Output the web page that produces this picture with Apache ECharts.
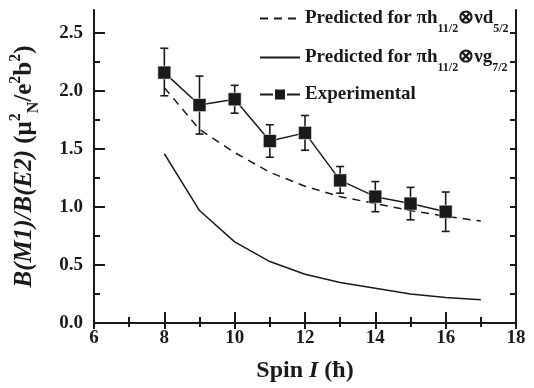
<!DOCTYPE html>
<html>
<head>
<meta charset="utf-8">
<script src="https://cdn.jsdelivr.net/npm/echarts@6/dist/echarts.min.js"></script>
<style>
  html, body { margin: 0; padding: 0; background: #fff; }
  #chart { width: 534px; height: 388px; }
</style>
</head>
<body>
<div id="chart"></div>
<script>
  // spins (hbar)
  var expSpin = [8, 9, 10, 11, 12, 13, 14, 15, 16];
  var expValue = [2.16, 1.88, 1.93, 1.57, 1.64, 1.23, 1.09, 1.03, 0.96];
  var expHigh = [2.37, 2.13, 2.05, 1.71, 1.79, 1.35, 1.22, 1.17, 1.13];
  var expLow = [1.96, 1.63, 1.81, 1.43, 1.49, 1.12, 0.96, 0.89, 0.79];

  var predSpin = [8, 9, 10, 11, 12, 13, 14, 15, 16, 17];
  var predD52 = [2.03, 1.67, 1.47, 1.30, 1.18, 1.09, 1.03, 0.97, 0.92, 0.88];
  var predG72 = [1.46, 0.97, 0.70, 0.53, 0.42, 0.35, 0.30, 0.25, 0.22, 0.20];

  var yTicks = [0, 0.25, 0.5, 0.75, 1, 1.25, 1.5, 1.75, 2, 2.25, 2.5];
  var yLabels = [0, 0.5, 1, 1.5, 2, 2.5];

  var nameD = 'Predicted d5/2';
  var nameG = 'Predicted g7/2';
  var nameExp = 'Experimental';

  var font = 'Liberation Serif';
  var ink = '#1a1a1a';

  function pairs(xs, ys) {
    return xs.map(function (x, i) { return [x, ys[i]]; });
  }

  var legendRich = {
    t: { fontFamily: font, fontWeight: 'bold', fontSize: 19, color: ink, lineHeight: 24 },
    s: { fontFamily: font, fontWeight: 'bold', fontSize: 12, color: ink, verticalAlign: 'bottom', lineHeight: 32 }
  };
  var legendText = {};
  legendText[nameD] = '{t|Predicted for πh}{s|11/2}{t|⊗νd}{s|5/2}';
  legendText[nameG] = '{t|Predicted for πh}{s|11/2}{t|⊗νg}{s|7/2}';
  legendText[nameExp] = '{t|Experimental}';

  function makeLegend(item, top) {
    return {
      data: [item],
      left: 254,
      top: top,
      itemWidth: 40,
      itemHeight: 15,
      formatter: function (n) { return legendText[n]; },
      textStyle: { rich: legendRich }
    };
  }

  var axisLine = { show: true, lineStyle: { color: ink, width: 2 } };
  var tickStyle = { color: ink, width: 2 };

  var chart = echarts.init(document.getElementById('chart'));
  chart.setOption({
    animation: false,
    grid: { left: 94, right: 18, top: 10, bottom: 64 },
    legend: [
      makeLegend({ name: nameD, itemStyle: { opacity: 0 } }, 4),
      makeLegend({ name: nameG, itemStyle: { opacity: 0 } }, 43),
      makeLegend(nameExp, 80)
    ],
    xAxis: [{
      type: 'value', min: 6, max: 18, interval: 2,
      axisLine: axisLine,
      axisTick: { inside: true, length: 11, lineStyle: tickStyle },
      minorTick: { show: true, splitNumber: 2, length: 6, lineStyle: tickStyle },
      splitLine: { show: false },
      axisLabel: { margin: 6, fontFamily: font, fontWeight: 'bold', fontSize: 19, color: ink },
      name: '{b|Spin }{i|I}{b| (ħ)}',
      nameLocation: 'middle',
      nameGap: 36,
      nameTextStyle: {
        rich: {
          b: { fontFamily: font, fontWeight: 'bold', fontSize: 24, color: ink },
          i: { fontFamily: font, fontWeight: 'bold', fontStyle: 'italic', fontSize: 24, color: ink }
        }
      }
    }, {
      type: 'value', min: 6, max: 18, interval: 2, position: 'top',
      axisLine: axisLine,
      axisTick: { inside: true, length: 6, lineStyle: tickStyle },
      minorTick: { show: true, splitNumber: 2, length: 4, lineStyle: tickStyle },
      splitLine: { show: false },
      axisLabel: { show: false }
    }],
    yAxis: [{
      type: 'value', min: 0, max: 2.7,
      axisLine: axisLine,
      axisTick: { inside: true, length: 11, customValues: yLabels, lineStyle: tickStyle },
      splitLine: { show: false },
      axisLabel: {
        margin: 11, customValues: yLabels, fontFamily: font, fontWeight: 'bold', fontSize: 19, color: ink,
        formatter: function (v) { return v.toFixed(1); }
      },
      name: '{i|B(M1)/B(E2)}{n| (μ}{sup|2}{sub|N}{n|/e}{sup|2}{n|b}{sup|2}{n|)}',
      nameLocation: 'middle',
      nameGap: 52,
      nameTextStyle: {
        rich: {
          i: { fontFamily: font, fontWeight: 'bold', fontStyle: 'italic', fontSize: 25, color: ink, lineHeight: 34 },
          n: { fontFamily: font, fontWeight: 'bold', fontSize: 25, color: ink, lineHeight: 34 },
          sup: { fontFamily: font, fontWeight: 'bold', fontSize: 16, color: ink, verticalAlign: 'top', lineHeight: 34 },
          sub: { fontFamily: font, fontWeight: 'bold', fontSize: 16, color: ink, verticalAlign: 'bottom', lineHeight: 34 }
        }
      }
    }, {
      type: 'value', min: 0, max: 2.7, position: 'right',
      axisLine: axisLine,
      axisTick: { inside: true, length: 6, customValues: yTicks, lineStyle: tickStyle },
      splitLine: { show: false },
      axisLabel: { show: false }
    }, {
      // minor ticks on the left axis
      type: 'value', min: 0, max: 2.7, position: 'left',
      axisLine: { show: false },
      axisTick: { inside: true, length: 6, customValues: yTicks, lineStyle: tickStyle },
      splitLine: { show: false },
      axisLabel: { show: false }
    }],
    series: [{
      name: nameD,
      type: 'line',
      data: pairs(predSpin, predD52),
      symbol: 'none',
      lineStyle: { color: ink, width: 1.5, type: [8, 6] },
      itemStyle: { color: ink },
      z: 2
    }, {
      name: nameG,
      type: 'line',
      data: pairs(predSpin, predG72),
      symbol: 'none',
      lineStyle: { color: ink, width: 1.5 },
      itemStyle: { color: ink },
      z: 2
    }, {
      name: nameExp,
      type: 'line',
      data: pairs(expSpin, expValue),
      symbol: 'rect',
      symbolSize: 13,
      lineStyle: { color: ink, width: 1.5 },
      itemStyle: { color: ink, borderColor: '#fff', borderWidth: 0.5 },
      z: 4
    }, {
      name: 'errors',
      type: 'custom',
      data: expSpin.map(function (x, i) { return [x, expLow[i], expHigh[i]]; }),
      renderItem: function (params, api) {
        var lo = api.coord([api.value(0), api.value(1)]);
        var hi = api.coord([api.value(0), api.value(2)]);
        var cap = 4;
        var st = { stroke: ink, lineWidth: 1.6 };
        return {
          type: 'group',
          children: [
            { type: 'line', shape: { x1: lo[0], y1: lo[1], x2: hi[0], y2: hi[1] }, style: st },
            { type: 'line', shape: { x1: lo[0] - cap, y1: lo[1], x2: lo[0] + cap, y2: lo[1] }, style: st },
            { type: 'line', shape: { x1: hi[0] - cap, y1: hi[1], x2: hi[0] + cap, y2: hi[1] }, style: st }
          ]
        };
      },
      z: 3
    }]
  });
</script>
</body>
</html>
